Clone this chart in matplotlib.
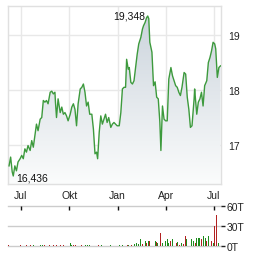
import numpy as np
import pandas as pd
import matplotlib
matplotlib.use("Agg")
from matplotlib import pyplot as plt
import matplotlib.dates as mdates
from matplotlib.colors import LinearSegmentedColormap

# price series
price_dates = [
    "2023-06-09", "2023-06-12", "2023-06-15", "2023-06-17", "2023-06-20", "2023-06-23", "2023-06-26", "2023-06-30",
    "2023-07-03", "2023-07-06", "2023-07-09", "2023-07-12", "2023-07-15", "2023-07-19", "2023-07-22", "2023-07-25",
    "2023-07-28", "2023-07-31", "2023-08-03", "2023-08-07", "2023-08-10", "2023-08-13", "2023-08-16", "2023-08-19",
    "2023-08-22", "2023-08-26", "2023-08-29", "2023-09-01", "2023-09-04", "2023-09-05", "2023-09-07", "2023-09-10",
    "2023-09-14", "2023-09-17", "2023-09-20", "2023-09-23", "2023-09-26", "2023-09-29", "2023-10-03", "2023-10-06",
    "2023-10-09", "2023-10-12", "2023-10-15", "2023-10-18", "2023-10-22", "2023-10-25", "2023-10-28", "2023-10-31",
    "2023-11-03", "2023-11-06", "2023-11-09", "2023-11-13", "2023-11-16", "2023-11-19", "2023-11-22", "2023-11-24",
    "2023-11-27", "2023-11-30", "2023-12-03", "2023-12-06", "2023-12-09", "2023-12-12", "2023-12-15", "2023-12-19",
    "2023-12-22", "2023-12-25", "2023-12-28", "2023-12-31", "2024-01-04", "2024-01-07", "2024-01-10", "2024-01-13",
    "2024-01-16", "2024-01-18", "2024-01-21", "2024-01-23", "2024-01-26", "2024-01-29", "2024-02-01", "2024-02-04",
    "2024-02-07", "2024-02-10", "2024-02-14", "2024-02-17", "2024-02-19", "2024-02-22", "2024-02-25", "2024-02-27",
    "2024-02-29", "2024-03-02", "2024-03-06", "2024-03-09", "2024-03-12", "2024-03-15", "2024-03-18", "2024-03-21",
    "2024-03-23", "2024-03-26", "2024-03-29", "2024-04-01", "2024-04-04", "2024-04-07", "2024-04-11", "2024-04-14",
    "2024-04-17", "2024-04-20", "2024-04-23", "2024-04-26", "2024-04-29", "2024-05-02", "2024-05-06", "2024-05-09",
    "2024-05-12", "2024-05-15", "2024-05-18", "2024-05-21", "2024-05-25", "2024-05-26", "2024-05-30", "2024-06-02",
    "2024-06-05", "2024-06-08", "2024-06-11", "2024-06-14", "2024-06-18", "2024-06-21", "2024-06-24", "2024-06-27",
    "2024-06-30", "2024-07-03", "2024-07-05", "2024-07-08", "2024-07-11", "2024-07-14",
]
prices = [
    16.62, 16.78, 16.51, 16.436, 16.62, 16.53, 16.69, 16.75, 16.81, 16.75,
    16.93, 16.87, 16.99, 16.90, 17.08, 16.96, 17.17, 17.38, 17.26, 17.47,
    17.50, 17.81, 17.78, 17.81, 17.75, 17.96, 17.98, 17.93, 17.96, 17.78,
    17.50, 17.84, 17.59, 17.69, 17.56, 17.59, 17.53, 17.44, 17.56, 17.69,
    17.75, 17.65, 17.35, 17.75, 18.02, 18.05, 18.11, 17.96, 17.71, 17.78,
    17.56, 17.56, 17.29, 16.84, 16.87, 16.75, 17.23, 17.53, 17.38, 17.47,
    17.56, 17.41, 17.50, 17.32, 17.38, 17.41, 17.38, 17.35, 17.35, 17.59,
    18.02, 18.05, 18.05, 18.56, 18.38, 18.41, 18.14, 18.11, 18.17, 18.41,
    18.65, 18.84, 18.96, 19.11, 19.17, 19.23, 19.32, 19.348, 19.30, 18.87,
    18.69, 18.08, 18.15, 17.87, 17.84, 17.42, 16.90, 17.71, 17.47, 17.44,
    17.44, 18.20, 18.41, 18.26, 18.17, 18.08, 18.05, 17.96, 17.90, 18.05,
    18.32, 18.29, 17.87, 17.65, 17.32, 17.35, 17.84, 18.02, 17.56, 17.78,
    17.84, 17.96, 17.71, 18.08, 18.17, 18.50, 18.59, 18.71, 18.87, 18.84,
    18.75, 18.23, 18.41, 18.44,
]

# volume (thousands), direction 1 = up day, 0 = down day
vol_dates = [
    "2023-06-08", "2023-07-01", "2023-07-12", "2023-07-19", "2023-07-25", "2023-08-08", "2023-08-11", "2023-08-16",
    "2023-08-24", "2023-09-01", "2023-09-04", "2023-09-07", "2023-09-14", "2023-09-20", "2023-10-03", "2023-10-06",
    "2023-10-09", "2023-10-13", "2023-10-16", "2023-10-25", "2023-11-01", "2023-11-04", "2023-11-09", "2023-11-17",
    "2023-11-25", "2023-12-02", "2023-12-19", "2023-12-27", "2024-01-04", "2024-01-10", "2024-01-20", "2024-01-22",
    "2024-01-28", "2024-02-02", "2024-02-06", "2024-02-09", "2024-02-14", "2024-02-17", "2024-02-22", "2024-02-25",
    "2024-02-28", "2024-03-02", "2024-03-06", "2024-03-12", "2024-03-14", "2024-03-16", "2024-03-23", "2024-03-26",
    "2024-03-29", "2024-04-01", "2024-04-04", "2024-04-07", "2024-04-11", "2024-04-14", "2024-04-17", "2024-04-21",
    "2024-04-24", "2024-04-27", "2024-05-01", "2024-05-05", "2024-05-08", "2024-05-11", "2024-05-19", "2024-05-20",
    "2024-05-24", "2024-05-27", "2024-05-30", "2024-06-02", "2024-06-05", "2024-06-08", "2024-06-12", "2024-06-15",
    "2024-06-18", "2024-06-21", "2024-06-24", "2024-06-27", "2024-06-30", "2024-07-03", "2024-07-07", "2024-07-10",
    "2024-07-13",
]
volumes = [
    1.5, 1.5, 1.5, 1.5, 1.5, 1.5, 1.5, 1.5, 1.5, 1.5, 1.5, 1.5, 1.5, 1.5, 5, 2,
    1.5, 1.5, 1.5, 1.5, 1.5, 1.5, 1.5, 1.5, 1.5, 1.5, 1.5, 1.5, 1.5, 1.5, 1.5, 1.5,
    1, 3, 5, 3, 10, 3, 7, 5, 7, 7, 6, 7, 6, 5, 20, 4,
    15, 7, 10, 4, 7, 10, 6, 4, 6, 2, 4, 3, 15, 10, 12, 10,
    7, 4, 12, 12, 12, 10, 15, 12, 7, 15, 14, 7, 4, 30, 46, 4,
    5,
]
vol_up = [
    0, 0, 0, 0, 1, 1, 1, 0, 0, 0, 0, 0, 0, 0, 1, 1,
    0, 0, 0, 0, 1, 1, 1, 0, 0, 1, 1, 1, 1, 1, 0, 1,
    0, 1, 1, 1, 1, 0, 1, 0, 1, 0, 1, 1, 0, 1, 0, 1,
    1, 1, 1, 1, 0, 1, 1, 0, 1, 0, 1, 0, 0, 1, 0, 1,
    1, 0, 1, 1, 1, 0, 1, 1, 0, 1, 1, 0, 1, 0, 0, 1,
    0,
]

x_ticks = ["2023-07-01", "2023-10-01", "2024-01-01", "2024-04-01", "2024-07-01"]
x_labels = ["Jul", "Okt", "Jan", "Apr", "Jul"]
vol_ticks = [0, 30, 60]
vol_labels = ["0T", "30T", "60T"]

pd_dates = pd.to_datetime(price_dates)
vd = pd.to_datetime(vol_dates)
xmin, xmax = pd.Timestamp("2023-06-07"), pd.Timestamp("2024-07-15")
ymin, ymax = 16.29, 19.53

plt.rcParams['font.family'] = 'Liberation Sans'
FS = 7.5
fig = plt.figure(figsize=(2.64, 2.55), dpi=100)
W, H = 264, 255
ax = fig.add_axes([8 / W, 1 - 185 / H, 213 / W, 178 / H])
axv = fig.add_axes([8 / W, 1 - 247 / H, 213 / W, 40 / H])

grid_c = '#e8e8e8'
line_c = '#3d9a3d'

# gradient fill under the line
poly = ax.fill_between(pd_dates, prices, ymin, color='none', lw=0)
grad = np.linspace(1, 0, 256).reshape(-1, 1)
cmap = LinearSegmentedColormap.from_list('g', ['#fbfcfc', '#c9d2db'])
x0, x1 = mdates.date2num(xmin), mdates.date2num(xmax)
im = ax.imshow(grad, extent=[x0, x1, ymin, ymax], aspect='auto', cmap=cmap,
               vmin=0, vmax=1, origin='upper', zorder=1)
im.set_clip_path(poly.get_paths()[0], transform=ax.transData)
ax.plot(pd_dates, prices, color=line_c, lw=1.0, zorder=3)

ax.set_xlim(xmin, xmax)
ax.set_ylim(ymin, ymax)
ax.set_xticks(pd.to_datetime(x_ticks))
ax.set_xticklabels(x_labels)
ax.set_yticks([17, 18, 19])
ax.yaxis.tick_right()
ax.tick_params(axis='both', length=0, labelsize=FS, colors='#222222')
ax.tick_params(axis='x', pad=4)
ax.tick_params(axis='y', pad=5)
ax.grid(True, color=grid_c, lw=1, zorder=0)
ax.set_axisbelow(True)
for s in ax.spines.values():
    s.set_color('#e0e0e0')
    s.set_linewidth(1)

imax = int(np.argmax(prices))
imin = int(np.argmin(prices))
ax.annotate(f"{prices[imax]:.3f}".replace('.', ','), (pd_dates[imax], prices[imax]), xytext=(-2, 0),
            textcoords='offset points', ha='right', va='center', fontsize=FS, color='#111111')
ax.annotate(f"{prices[imin]:.3f}".replace('.', ','), (pd_dates[imin], prices[imin]), xytext=(2, -1),
            textcoords='offset points', ha='left', va='center', fontsize=FS, color='#111111')

# volume panel
colors = ['#1e8c1e' if u else '#b22222' for u in vol_up]
axv.bar(vd, volumes, width=1.6, color=colors, lw=0, zorder=3)
axv.set_xlim(xmin, xmax)
axv.set_ylim(0, 60)
for v in vol_ticks:
    axv.axhline(v, color='#cccccc', lw=1, zorder=0, clip_on=False)
axv.set_yticks(vol_ticks)
axv.set_yticklabels(vol_labels)
axv.yaxis.tick_right()
axv.tick_params(axis='y', length=3, width=1, pad=1, labelsize=FS, colors='#222222')
axv.xaxis.tick_top()
axv.set_xticks(pd.to_datetime(x_ticks))
axv.tick_params(axis='x', direction='in', length=3, width=1, labeltop=False, colors='#111111')
for s in axv.spines.values():
    s.set_visible(False)

fig.savefig('out.png', dpi=100)
